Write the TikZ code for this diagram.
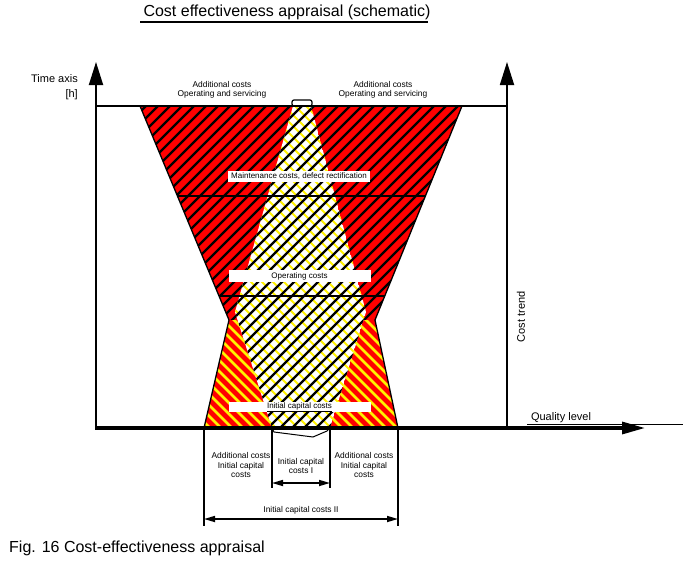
\documentclass[tikz,border=0pt]{standalone}
\usepackage{fontspec}
\setmainfont{Liberation Sans}
\usetikzlibrary{arrows.meta}
\tikzset{
  lbl/.style={font=\fontsize{8.4}{9.5}\selectfont, align=center, inner sep=0pt},
  bigtxt/.style={font=\fontsize{11}{13}\selectfont, inner sep=0pt},
  bar/.style={fill=white, inner sep=0pt, minimum width=142pt, font=\fontsize{8}{9}\selectfont},
  vaxis/.style={line width=1.8pt, -{Triangle[length=23pt,width=14pt]}},
  haxis/.style={line width=3.2pt, -{Triangle[length=23pt,width=12pt]}},
  blk/.style={line width=2.3pt, black},
  yel/.style={line width=2.8pt, yellow},
  yelthin/.style={line width=1.8pt, yellow},
  edge/.style={line width=1.3pt, black},
  dimline/.style={line width=1.6pt, {Triangle[length=11pt,width=6pt]}-{Triangle[length=11pt,width=6pt]}},
}
\begin{document}
\begin{tikzpicture}[x=1pt,y=-1pt]
\useasboundingbox (0,0) rectangle (683,562);
% key points
\coordinate (TL) at (140,106);
\coordinate (TR) at (462,106);
\coordinate (WL) at (229,320);
\coordinate (WR) at (375,320);
\coordinate (BL) at (204,428);
\coordinate (BR) at (398,428);
\coordinate (C1) at (293,106);
\coordinate (C2) at (311,106);
\coordinate (C3) at (366,312);
\coordinate (C4) at (330,428);
\coordinate (C5) at (272,428);
\coordinate (C6) at (235,312);
% upper red part
\begin{scope}
  \clip (TL)--(TR)--(WR)--(WL)--cycle;
  \fill[red] (TL)--(TR)--(WR)--(WL)--cycle;
  \foreach \c in {240,252,...,900} \draw[blk] (\c,0) -- ++(-600,600);
\end{scope}
% lower red part
\begin{scope}
  \clip (WL)--(WR)--(BR)--(BL)--cycle;
  \fill[red] (WL)--(WR)--(BR)--(BL)--cycle;
  \foreach \c in {-240,-229,...,370} \draw[yel] (\c,0) -- ++(600,600);
\end{scope}
% central shape
\begin{scope}
  \clip (C1)--(C2)--(C3)--(C4)--(C5)--(C6)--cycle;
  \fill[white] (C1)--(C2)--(C3)--(C4)--(C5)--(C6)--cycle;
  \foreach \c in {-240,-229,...,370} \draw[yelthin] (\c,0) -- ++(600,600);
  \foreach \c in {240,252,...,900} \draw[blk] (\c,0) -- ++(-600,600);
\end{scope}
% horizontal division lines
\begin{scope}
  \clip (TL)--(TR)--(WR)--(WL)--cycle;
  \draw[edge] (100,196) -- (500,196);
  \draw[edge] (100,296) -- (500,296);
\end{scope}
% outline
\draw[edge] (TL)--(WL)--(BL);
\draw[edge] (TR)--(WR)--(BR);
\draw[line width=1.2pt, fill=white, rounded corners=2pt] (292,100) rectangle (312,106);
% axes
\coordinate (LA0) at (96,428);
\coordinate (LA1) at (96,62);
\coordinate (RA0) at (507,428);
\coordinate (RA1) at (507,62);
\coordinate (BA0) at (95,428);
\coordinate (BA1) at (645,428);
\coordinate (TT0) at (96,106);
\coordinate (TT1) at (507,106);
\draw[vaxis] (LA0) -- (LA1);
\draw[vaxis] (RA0) -- (RA1);
\draw[line width=1.5pt] (TT0) -- (TT1);
\draw[haxis] (BA0) -- (BA1);
\coordinate (QL0) at (527,424);
\coordinate (QL1) at (683,424);
\draw[line width=0.8pt] (QL0) -- (QL1);
% bottom bracket
\draw[line width=1pt] (C5) -- (274,432) -- (313,437) -- (327,431) -- (C4);
% dimension lines
\coordinate (DL1) at (204,526);
\coordinate (DR1) at (398,526);
\coordinate (DL2) at (272,488);
\coordinate (DR2) at (330,488);
\draw[edge] (BL) -- (DL1);
\draw[edge] (BR) -- (DR1);
\draw[edge] (C5) -- (DL2);
\draw[edge] (C4) -- (DR2);
\coordinate (A1L) at (272,483);
\coordinate (A1R) at (330,483);
\coordinate (A2L) at (204,519);
\coordinate (A2R) at (398,519);
\draw[dimline] (A1L) -- (A1R);
\draw[dimline] (A2L) -- (A2R);
% label bars
\node[bar, minimum height=11pt] (mc) at (299,176) {Maintenance costs, defect rectification};
\node[bar, minimum height=12pt] (oc) at (299.5,276) {Operating costs};
\node[bar, minimum height=10pt] (ic) at (299.5,407) {\underline{Initial capital costs}};
% texts
\node[font=\fontsize{16}{18}\selectfont, inner sep=0pt] (title) at (287,12) {Cost effectiveness appraisal (schematic)};
\coordinate (UL0) at (140,22);
\coordinate (UL1) at (428,22);
\draw[line width=1.2pt] (UL0) -- (UL1);
\node[bigtxt, anchor=east] (ta) at (78,79) {Time axis};
\node[bigtxt, anchor=east] (th) at (78,95) {[h]};
\node[bigtxt, rotate=90] (ct) at (521,317) {Cost trend};
\node[bigtxt] (ql) at (561,418) {Quality level};
\node[lbl] (al) at (222,90) {Additional costs\\Operating and servicing};
\node[lbl] (ar) at (383,90) {Additional costs\\Operating and servicing};
\node[lbl] (bl) at (241,465) {Additional costs\\Initial capital\\costs};
\node[lbl] (br) at (364,465) {Additional costs\\Initial capital\\costs};
\node[lbl] (bm) at (301,466) {Initial capital\\costs I};
\node[lbl] (b2) at (301,510) {Initial capital costs II};
\node[font=\fontsize{16}{18}\selectfont, inner sep=0pt, anchor=west] (cap) at (9,548) {Fig. 16 Cost-effectiveness appraisal};
\end{tikzpicture}
\end{document}
